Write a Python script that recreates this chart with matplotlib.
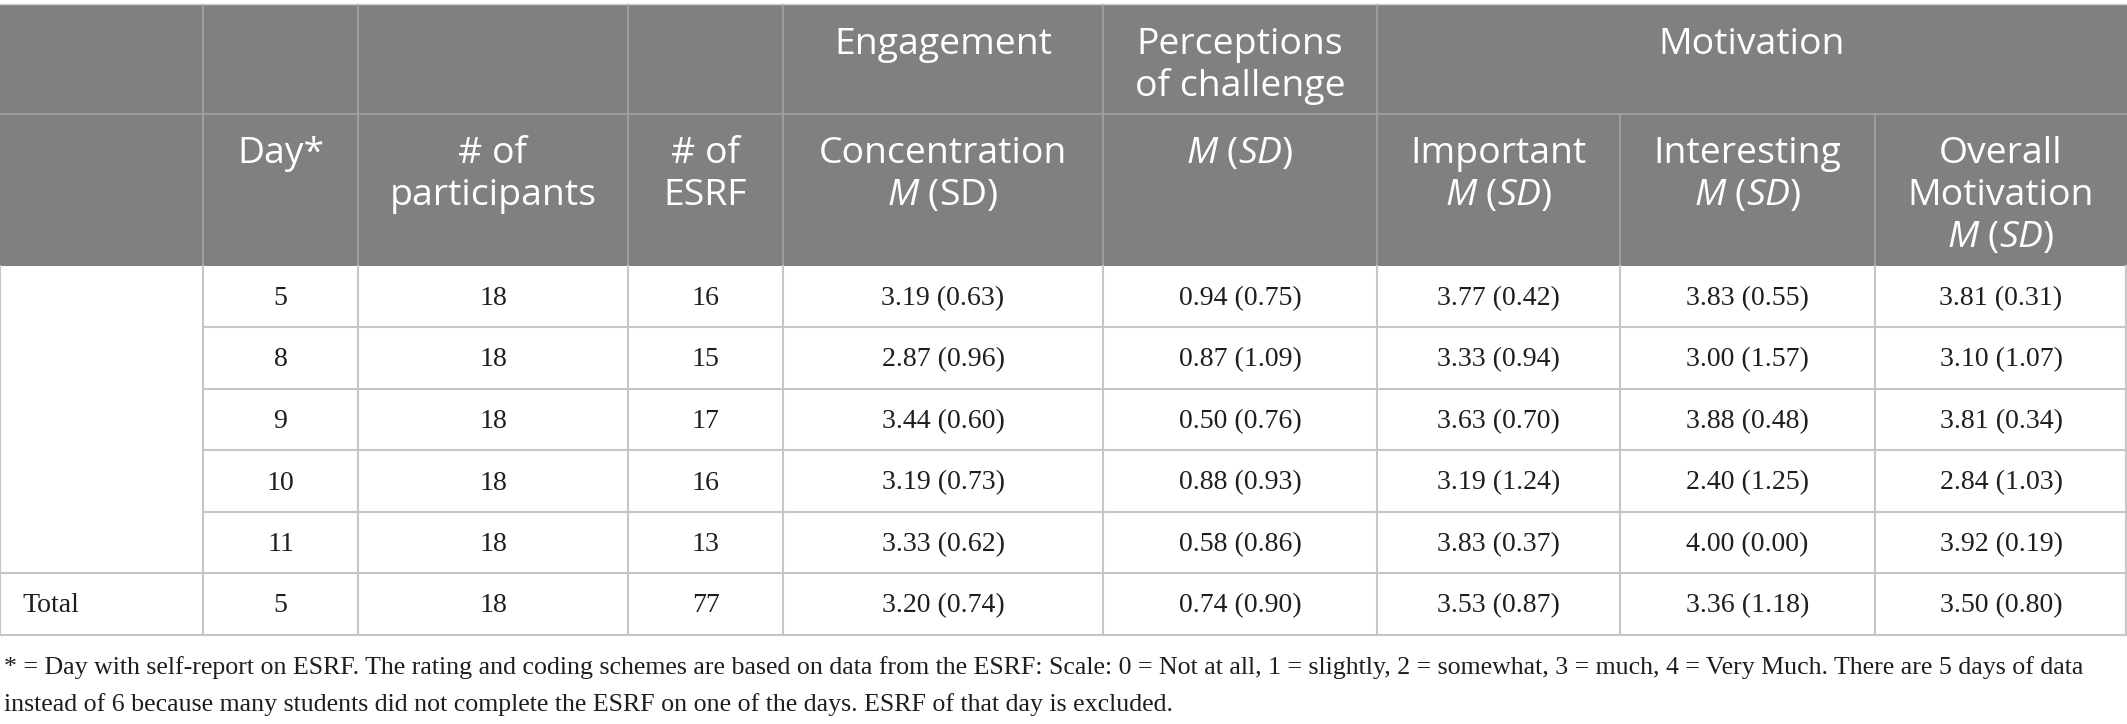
import matplotlib
matplotlib.use("Agg")
import matplotlib.pyplot as plt
from matplotlib.patches import Rectangle

# ---------------- data ----------------
days = [5, 8, 9, 10, 11]
participants = [18, 18, 18, 18, 18]
esrf = [16, 15, 17, 16, 13]
conc_m = [3.19, 2.87, 3.44, 3.19, 3.33]
conc_sd = [0.63, 0.96, 0.60, 0.73, 0.62]
chal_m = [0.94, 0.87, 0.50, 0.88, 0.58]
chal_sd = [0.75, 1.09, 0.76, 0.93, 0.86]
imp_m = [3.77, 3.33, 3.63, 3.19, 3.83]
imp_sd = [0.42, 0.94, 0.70, 1.24, 0.37]
int_m = [3.83, 3.00, 3.88, 2.40, 4.00]
int_sd = [0.55, 1.57, 0.48, 1.25, 0.00]
ovr_m = [3.81, 3.10, 3.81, 2.84, 3.92]
ovr_sd = [0.31, 1.07, 0.34, 1.03, 0.19]

total_label = "Total"
total_days = 5
total_participants = 18
total_esrf = 77
total_conc = (3.20, 0.74)
total_chal = (0.74, 0.90)
total_imp = (3.53, 0.87)
total_int = (3.36, 1.18)
total_ovr = (3.50, 0.80)

group_headers = ["Engagement", "Perceptions\nof challenge", "Motivation"]
col_headers = ["", "Day*", "# of\nparticipants", "# of\nESRF",
               "Concentration\n$M$ (SD)", "$M$ ($SD$)",
               "Important\n$M$ ($SD$)", "Interesting\n$M$ ($SD$)",
               "Overall\nMotivation\n$M$ ($SD$)"]
footnote = ["* = Day with self-report on ESRF. The rating and coding schemes are based on data from the ESRF: "
            "Scale: 0 = Not at all, 1 = slightly, 2 = somewhat, 3 = much, 4 = Very Much. There are 5 days of data",
            "instead of 6 because many students did not complete the ESRF on one of the days. ESRF of that day is excluded."]

# ---------------- layout ----------------
W, H = 2127, 724
xs = [0, 203, 358, 628, 783, 1103, 1377, 1620, 1875, 2127]
ys = [5, 114, 266, 327, 389, 450, 512, 573, 635]
group_spans = [(4, 5), (5, 6), (6, 9)]

HEAD_BG = "#808080"
HEAD_LINE = "#a3a3a3"
BODY_LINE = "#c6c6c6"
TXT = "#1e1e1e"
HEAD_FONT = "Open Sans"
BODY_FONT = "Liberation Serif"

plt.rcParams["mathtext.fontset"] = "custom"
plt.rcParams["mathtext.rm"] = HEAD_FONT
plt.rcParams["mathtext.it"] = HEAD_FONT + ":italic"

fig = plt.figure(figsize=(W / 100, H / 100), dpi=100)
ax = fig.add_axes([0, 0, 1, 1])
ax.set_xlim(0, W)
ax.set_ylim(H, 0)
ax.axis("off")
renderer = fig.canvas.get_renderer()


def fit_size(text, family, target_px, base=20.0):
    t = fig.text(0, 0, text, fontsize=base, fontfamily=family)
    w = t.get_window_extent(renderer=renderer).width
    t.remove()
    return base * target_px / w


HFS = fit_size("Engagement", HEAD_FONT, 217)
FFS = fit_size(footnote[0], BODY_FONT, 2086)
BFS = fit_size("3.19 (0.63)", BODY_FONT, 123)

# header background
ax.add_patch(Rectangle((xs[0], ys[0]), xs[-1] - xs[0], ys[2] - ys[0],
                       facecolor=HEAD_BG, edgecolor="none", zorder=1))
ax.plot([0, W], [ys[0] - 1, ys[0] - 1], color="#d0d0d0", lw=1, zorder=2)

# header lines
ax.plot([0, W], [ys[1], ys[1]], color=HEAD_LINE, lw=1.2, zorder=2)
for i in range(1, 9):
    x = xs[i]
    top = ys[0] if i <= 6 else ys[1]
    ax.plot([x, x], [top, ys[2]], color=HEAD_LINE, lw=1.2, zorder=2)

# body lines
for i in range(0, 10):
    x = xs[i] if i < 9 else W - 1
    ax.plot([x, x], [ys[2], ys[-1]], color=BODY_LINE, lw=1.5, zorder=2)
for j in range(3, 7):
    ax.plot([xs[1], W], [ys[j], ys[j]], color=BODY_LINE, lw=1.5, zorder=2)
for j in (7, 8):
    ax.plot([0, W], [ys[j], ys[j]], color=BODY_LINE, lw=1.5, zorder=2)

# header texts
PITCH = 42
for (a, b), lab in zip(group_spans, group_headers):
    cx = (xs[a] + xs[b]) / 2
    for k, line in enumerate(lab.split("\n")):
        ax.text(cx, 54 + k * PITCH, line, ha="center", va="baseline", color="white",
                fontsize=HFS, fontfamily=HEAD_FONT, zorder=3)
for i, lab in enumerate(col_headers):
    if not lab:
        continue
    cx = (xs[i] + xs[i + 1]) / 2
    for k, line in enumerate(lab.split("\n")):
        ax.text(cx, 163 + k * PITCH, line, ha="center", va="baseline", color="white",
                fontsize=HFS, fontfamily=HEAD_FONT, zorder=3)

# body texts
def fmt(m, s):
    return f"{m:.2f} ({s:.2f})"

rows = []
for r in range(len(days)):
    rows.append(["", str(days[r]), str(participants[r]), str(esrf[r]),
                 fmt(conc_m[r], conc_sd[r]), fmt(chal_m[r], chal_sd[r]),
                 fmt(imp_m[r], imp_sd[r]), fmt(int_m[r], int_sd[r]),
                 fmt(ovr_m[r], ovr_sd[r])])
rows.append([total_label, str(total_days), str(total_participants), str(total_esrf),
             fmt(*total_conc), fmt(*total_chal), fmt(*total_imp), fmt(*total_int),
             fmt(*total_ovr)])

for r, row in enumerate(rows):
    cy = (ys[2 + r] + ys[3 + r]) / 2 + 2
    for i, val in enumerate(row):
        if not val:
            continue
        if i == 0:
            ax.text(xs[0] + 22, cy, val, ha="left", va="center", color=TXT,
                    fontsize=BFS, fontfamily=BODY_FONT, zorder=3)
        else:
            ax.text((xs[i] + xs[i + 1]) / 2, cy, val, ha="center", va="center",
                    color=TXT, fontsize=BFS, fontfamily=BODY_FONT, zorder=3)

# footnote
for k, line in enumerate(footnote):
    ax.text(4, 668 + k * 37, line, ha="left", va="center", color=TXT,
            fontsize=FFS, fontfamily=BODY_FONT, zorder=3)

fig.savefig("out.png", dpi=100)
